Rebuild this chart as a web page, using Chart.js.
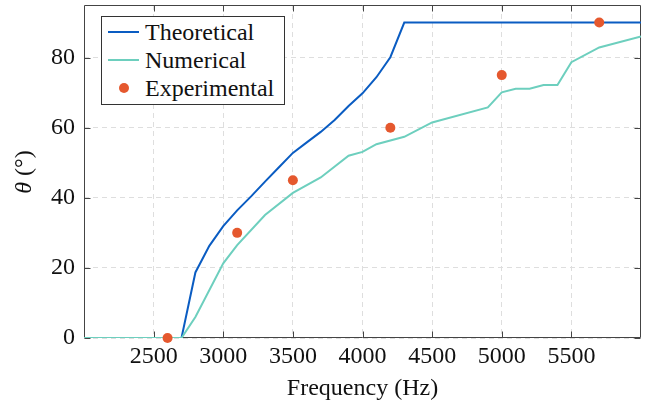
<!DOCTYPE html>
<html>
<head>
<meta charset="utf-8">
<script src="https://cdn.jsdelivr.net/npm/chart.js@4.4.1/dist/chart.umd.min.js"></script>
<style>
html,body{margin:0;padding:0;background:#fff;}
#wrap{position:relative;width:649px;height:403px;font-family:"Liberation Serif","Times New Roman",serif;color:#111;overflow:hidden;}
#c{position:absolute;left:0;top:0;}
#lg{position:absolute;left:101px;top:16px;width:184px;height:89px;box-sizing:border-box;border:1px solid #333;background:#fff;}
.lt{position:absolute;font-size:24px;line-height:24px;white-space:nowrap;}
.ls{position:absolute;height:2px;}
.ld{position:absolute;border-radius:50%;}
#yt{position:absolute;left:-17px;top:160px;width:80px;height:24px;font-size:24px;line-height:24px;text-align:center;transform:rotate(-90deg);white-space:nowrap;}
</style>
</head>
<body>
<div id="wrap">
<canvas id="c" width="649" height="403"></canvas>
<div id="lg"></div>
<div id="yt"><i>θ</i> (°)</div>
</div>
<script>
// ---- data ----
const seriesNames = ['Theoretical', 'Numerical', 'Experimental'];
const seriesColors = ['#0a5cc2', '#6dcfbe', '#e5582e'];

const theoFreq  = [2000, 2700, 2800, 2900, 3000, 3100, 3200, 3300, 3400, 3500, 3600, 3700, 3800, 3900, 4000, 4100, 4200, 4300, 6000];
const theoAngle = [0,    0,    18.7, 26.3, 31.9, 36.4, 40.4, 44.6, 48.7, 52.8, 55.8, 58.8, 62.2, 66.2, 69.8, 74.4, 80.1, 90,   90];

const numFreq  = [2000, 2700, 2800, 3000, 3100, 3300, 3500, 3700, 3900, 4000, 4100, 4300, 4500, 4900, 5000, 5100, 5200, 5300, 5400, 5500, 5700, 6000];
const numAngle = [0,    0,    6.0,  21.3, 26.5, 35.1, 41.4, 45.8, 52.0, 53.1, 55.3, 57.4, 61.5, 65.8, 70.1, 71.1, 71.1, 72.2, 72.2, 78.7, 82.9, 86.0];

const expFreq  = [2600, 3100, 3500, 4200, 5000, 5700];
const expAngle = [0,    30,   45,   60,   75,   90];

const xTicks = [2500, 3000, 3500, 4000, 4500, 5000, 5500];
const yTicks = [0, 20, 40, 60, 80];
const xRange = [2000, 6000];
const yRange = [0, 95];
const xTitle = 'Frequency (Hz)';

// ---- helpers ----
const pts = (xs, ys) => xs.map((x, i) => ({x: x, y: ys[i]}));
const FONT = 'Liberation Serif';

const framePlugin = {
  id: 'frame',
  beforeDatasetsDraw(chart) {
    const {ctx, chartArea: a, scales: {x, y}} = chart;
    ctx.save();
    ctx.strokeStyle = '#444';
    ctx.lineWidth = 1;
    const L = Math.round(a.left) + 0.5, R = Math.round(a.right) - 0.5;
    const T = Math.round(a.top) + 0.5, B = Math.round(a.bottom) - 0.5;
    ctx.beginPath();
    ctx.rect(L, T, R - L, B - T);
    ctx.stroke();
    const tl = 6;
    ctx.beginPath();
    x.ticks.forEach(t => {
      const px = Math.round(x.getPixelForValue(t.value)) + 0.5;
      ctx.moveTo(px, B); ctx.lineTo(px, B - tl);
      ctx.moveTo(px, T); ctx.lineTo(px, T + tl);
    });
    y.ticks.forEach(t => {
      const py = Math.round(y.getPixelForValue(t.value)) + 0.5;
      ctx.moveTo(L, py); ctx.lineTo(L + tl, py);
      ctx.moveTo(R, py); ctx.lineTo(R - tl, py);
    });
    ctx.stroke();
    ctx.restore();
  }
};

const chart = new Chart(document.getElementById('c'), {
  type: 'line',
  data: {
    datasets: [
      {label: seriesNames[0], data: pts(theoFreq, theoAngle), borderColor: seriesColors[0], backgroundColor: seriesColors[0],
       borderWidth: 2, pointRadius: 0, tension: 0, fill: false, order: 3},
      {label: seriesNames[1], data: pts(numFreq, numAngle), borderColor: seriesColors[1], backgroundColor: seriesColors[1],
       borderWidth: 2, pointRadius: 0, tension: 0, fill: false, order: 2},
      {label: seriesNames[2], data: pts(expFreq, expAngle), borderColor: seriesColors[2], backgroundColor: seriesColors[2],
       showLine: false, pointRadius: 5, pointBorderWidth: 0, pointHoverRadius: 5, clip: false, order: 1}
    ]
  },
  options: {
    responsive: false,
    animation: false,
    devicePixelRatio: 1,
    layout: {padding: {top: 5, right: 8, left: 0, bottom: 0}},
    plugins: {legend: {display: false}, tooltip: {enabled: false}},
    scales: {
      x: {
        type: 'linear', min: xRange[0], max: xRange[1],
        afterBuildTicks: s => { s.ticks = xTicks.map(v => ({value: v})); },
        afterFit: s => { s.height = 65; s.paddingLeft = 0; s.paddingRight = 0; },
        grid: {color: '#dedede', lineWidth: 1, drawTicks: false},
        border: {display: false, dash: [5, 4]},
        ticks: {color: '#111', font: {family: FONT, size: 24}, padding: 4, maxRotation: 0, autoSkip: false,
                callback: v => String(v)},
        title: {display: true, text: xTitle, color: '#111', font: {family: FONT, size: 24}, padding: {top: 0, bottom: 0}}
      },
      y: {
        type: 'linear', min: yRange[0], max: yRange[1],
        afterBuildTicks: s => { s.ticks = yTicks.map(v => ({value: v})); },
        afterFit: s => { s.width = 84; s.paddingTop = 0; s.paddingBottom = 0; },
        grid: {color: '#dedede', lineWidth: 1, drawTicks: false},
        border: {display: false, dash: [5, 4]},
        ticks: {color: '#111', font: {family: FONT, size: 24}, padding: 9, autoSkip: false,
                callback: v => String(v)},
        title: {display: false}
      }
    }
  },
  plugins: [framePlugin]
});

// ---- legend (built from datasets) ----
const lg = document.getElementById('lg');
const wrap = document.getElementById('wrap');
chart.data.datasets.forEach((ds, i) => {
  const cy = 32 + i * 28;
  if (ds.showLine === false) {
    const d = document.createElement('div');
    d.className = 'ld';
    d.style.left = (124 - 5) + 'px'; d.style.top = (cy - 5) + 'px';
    d.style.width = '10px'; d.style.height = '10px';
    d.style.background = ds.backgroundColor;
    wrap.appendChild(d);
  } else {
    const s = document.createElement('div');
    s.className = 'ls';
    s.style.left = '108px'; s.style.top = (cy - 1) + 'px'; s.style.width = '31px';
    s.style.background = ds.borderColor;
    wrap.appendChild(s);
  }
  const t = document.createElement('div');
  t.className = 'lt';
  t.style.left = '145px'; t.style.top = (cy + 8 - 20) + 'px';
  t.textContent = ds.label;
  wrap.appendChild(t);
});
</script>
</body>
</html>
